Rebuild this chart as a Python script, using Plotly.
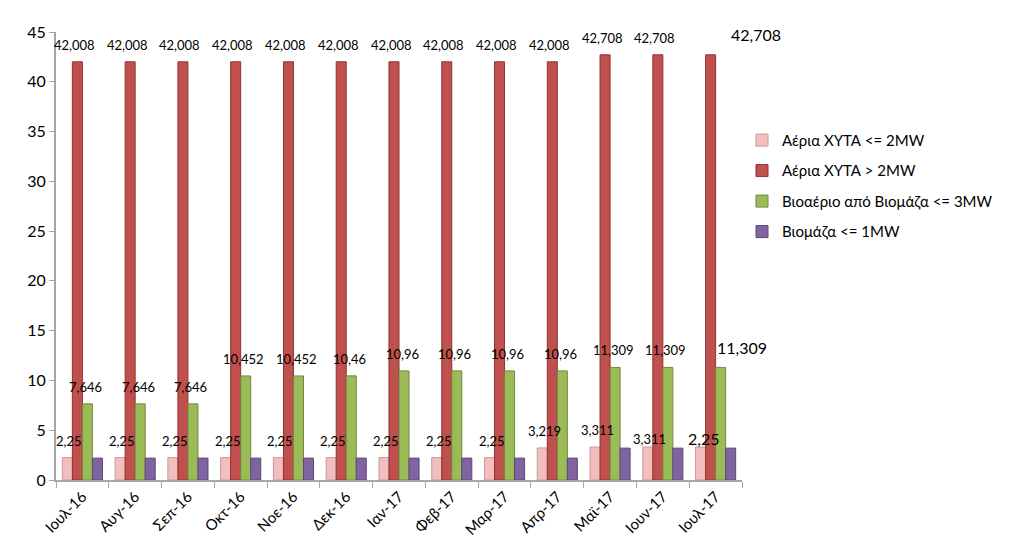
import plotly.graph_objects as go

categories = ["Ιουλ-16", "Αυγ-16", "Σεπ-16", "Οκτ-16", "Νοε-16", "Δεκ-16", "Ιαν-17",
              "Φεβ-17", "Μαρ-17", "Απρ-17", "Μαϊ-17", "Ιουν-17", "Ιουλ-17"]
series_names = ["Αέρια ΧΥΤΑ <= 2MW", "Αέρια ΧΥΤΑ > 2MW",
                "Βιοαέριο από Βιομάζα <= 3MW", "Βιομάζα <= 1MW"]
xyta_small = [2.25, 2.25, 2.25, 2.25, 2.25, 2.25, 2.25, 2.25, 2.25, 3.219, 3.311, 3.311, 3.311]
xyta_small_labels = ["2,25"] * 9 + ["3,219", "3,311", "3,311", "2,25"]
xyta_big = [42.008] * 10 + [42.708] * 3
xyta_big_labels = ["42,008"] * 10 + ["42,708"] * 3
biogas = [7.646, 7.646, 7.646, 10.452, 10.452, 10.46, 10.96, 10.96, 10.96, 10.96, 11.309, 11.309, 11.309]
biogas_labels = ["7,646"] * 3 + ["10,452", "10,452", "10,46"] + ["10,96"] * 4 + ["11,309"] * 3
biomass = [2.2] * 10 + [3.2] * 3
y_ticks = [0, 5, 10, 15, 20, 25, 30, 35, 40, 45]

colors = ["#F2BFBE", "#C0504D", "#9BBB59", "#8064A2"]
lines = ["#C99896", "#8E3330", "#71893F", "#5C4878"]

FONT = "Lato, 'Open Sans', sans-serif"

fig = go.Figure()
all_vals = [xyta_small, xyta_big, biogas, biomass]
for i, vals in enumerate(all_vals):
    fig.add_trace(go.Bar(
        x=categories, y=vals, name=series_names[i], legendgroup=f"g{i}",
        marker=dict(color=colors[i], line=dict(color=lines[i], width=1)),
        cliponaxis=False,
    ))

# data labels (pixel offsets mimic the 3-D label placement of the source)
label_sets = [(xyta_small, xyta_small_labels, -13), (xyta_big, xyta_big_labels, -8),
              (biogas, biogas_labels, 3)]
last = len(categories) - 1
special = {0: (-12, 9), 1: (40, 20), 2: (26, 20)}
for s, (vals, labels, dx) in enumerate(label_sets):
    for j, (c, v, t) in enumerate(zip(categories, vals, labels)):
        if j == last:
            sx, sy = special[s]
            fig.add_annotation(x=c, y=v, text=t, xshift=sx, yshift=sy, showarrow=False,
                               font=dict(size=16, color="#000", family=FONT))
        else:
            yshift = 17
            if s == 0 and j == last - 1:
                yshift = 8
            fig.add_annotation(x=c, y=v, text=t, xshift=dx, yshift=yshift, showarrow=False,
                               font=dict(size=13, color="#000", family=FONT))

fig.update_layout(
    width=1024, height=558,
    margin=dict(l=48, r=290, t=24, b=86),
    paper_bgcolor="white", plot_bgcolor="white",
    barmode="group", bargap=0.24, bargroupgap=0,
    font=dict(family=FONT, size=14, color="#000"),
    showlegend=True,
    legend=dict(x=1.0, y=0.795, xanchor="left", yanchor="top",
                font=dict(size=15, family=FONT), tracegroupgap=8,
                bgcolor="rgba(0,0,0,0)"),
)
fig.update_xaxes(
    type="category", tickangle=-45, showline=True, linecolor="#A6A6A6", linewidth=2,
    ticks="outside", tickson="boundaries", ticklen=6, tickcolor="#A6A6A6",
    tickfont=dict(size=15, family=FONT), showgrid=False, range=[-0.5, 12.5],
)
fig.update_yaxes(
    range=[0, 45], tickvals=y_ticks, showline=True, linecolor="#A6A6A6", linewidth=2,
    ticks="outside", ticklen=5, tickcolor="#A6A6A6", showgrid=False, zeroline=False,
    tickfont=dict(size=16, family=FONT),
)

fig.write_html("out.html")
